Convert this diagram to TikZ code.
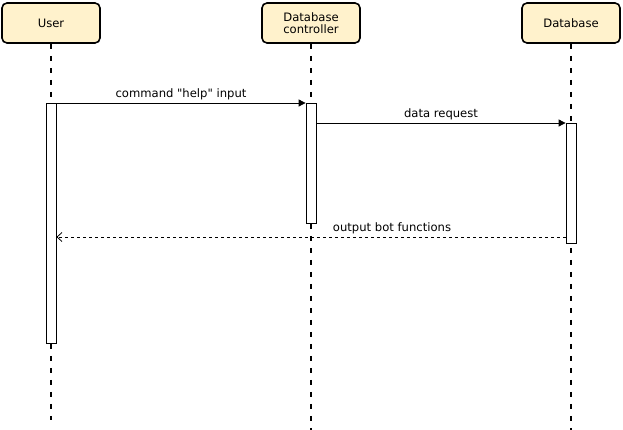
\documentclass[tikz,border=0pt]{standalone}
\usepackage{fontspec}
\setmainfont{DejaVu Sans}[Ligatures=TeXOff]
\usetikzlibrary{arrows.meta}
\definecolor{headfill}{HTML}{FFF2CC}
\begin{document}
\begin{tikzpicture}[x=1pt,y=-1pt,
  font=\fontsize{11.6}{12.5}\selectfont,
  head/.style={draw=black,line width=1.6pt,fill=headfill,rounded corners=5pt,
    minimum width=98pt,minimum height=40pt,align=center,inner sep=0pt},
  lifeline/.style={line width=1.4pt,dash pattern=on 5pt off 7pt},
  actbar/.style={draw=black,line width=0.8pt,fill=white,minimum width=10pt,
    inner sep=0pt,anchor=north},
  msg/.style={line width=0.8pt,-{Triangle[length=7pt,width=7pt]}},
  reply/.style={line width=0.8pt,dash pattern=on 3pt off 3pt,
    -{Straight Barb[length=5pt,width=9pt]}},
  lbl/.style={inner sep=0pt}]
\useasboundingbox (0,0) rectangle (623,430);
% participants
\node[head] (user) at (51,23) {User};
\node[head] (ctrl) at (311,23) {Database\\controller};
\node[head] (db) at (571,23) {Database};
% lifelines
\coordinate (userend) at (51,420);
\coordinate (ctrlend) at (311,430);
\coordinate (dbend) at (571,430);
\draw[lifeline] (user.south) -- (userend);
\draw[lifeline] (ctrl.south) -- (ctrlend);
\draw[lifeline] (db.south) -- (dbend);
% activation bars
\node[actbar,minimum height=240pt] (ubar) at (51,103) {};
\node[actbar,minimum height=120pt] (cbar) at (311,103) {};
\node[actbar,minimum height=120pt] (dbar) at (571,123) {};
% messages
\draw[msg] (ubar.north east) -- node[lbl,above=3pt] {command "help" input} (cbar.north west);
\draw[msg] (cbar.east |- dbar.north) -- node[lbl,above=3pt] {data request} (dbar.north west);
\coordinate (ret) at (0,237);
\draw[reply] (dbar.west |- ret) -- (ubar.east |- ret);
\node[lbl] (retlbl) at (392,228) {output bot functions};
\end{tikzpicture}
\end{document}
